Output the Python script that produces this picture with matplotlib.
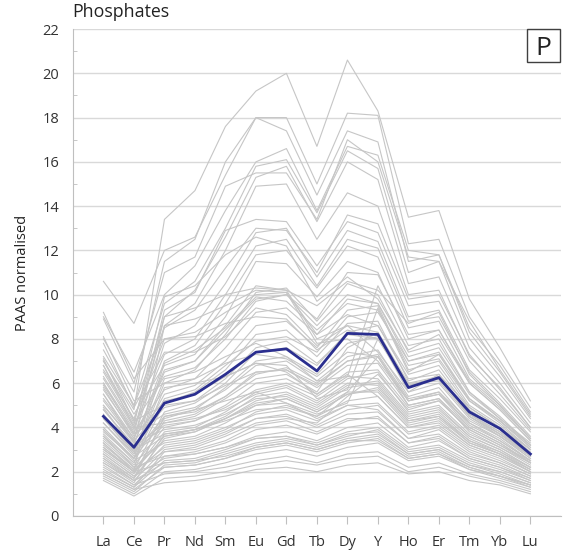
import numpy as np
import matplotlib
matplotlib.use("Agg")
import matplotlib.pyplot as plt
from matplotlib.patches import Rectangle

plt.rcParams['font.family'] = ['Open Sans', 'DejaVu Sans']

elements = ["La", "Ce", "Pr", "Nd", "Sm", "Eu", "Gd", "Tb", "Dy", "Y", "Ho", "Er", "Tm", "Yb", "Lu"]

# individual phosphate samples (PAAS normalised)
samples = [
    [7.0, 4.8, 13.4, 14.7, 17.6, 19.2, 20.0, 16.7, 20.6, 18.3, 13.5, 13.8, 9.8, 7.6, 5.2],
    [10.6, 8.7, 12.0, 12.6, 15.4, 18.0, 18.0, 15.0, 18.2, 18.1, 12.3, 12.5, 9.0, 7.0, 4.9],
    [8.0, 5.6, 11.5, 12.5, 16.0, 18.0, 17.4, 14.5, 17.4, 16.9, 11.5, 11.8, 8.5, 6.8, 4.7],
    [9.0, 6.5, 10.0, 11.3, 13.8, 16.0, 16.6, 13.8, 16.7, 16.3, 12.0, 11.8, 8.3, 6.5, 4.5],
    [7.5, 5.0, 9.6, 10.6, 13.0, 15.8, 16.1, 13.7, 16.5, 15.7, 11.0, 11.5, 8.0, 6.3, 4.4],
    [6.8, 4.3, 9.0, 10.2, 12.6, 15.3, 15.8, 13.3, 16.0, 15.2, 10.5, 10.8, 7.6, 6.0, 4.2],
    [6.0, 3.9, 8.6, 9.6, 12.0, 14.9, 15.0, 12.5, 14.6, 14.0, 10.0, 10.2, 7.2, 5.8, 4.0],
    [8.9, 6.0, 11.0, 11.7, 14.9, 15.5, 15.5, 13.4, 17.0, 16.0, 11.7, 11.5, 8.8, 6.6, 4.6],
    [5.7, 3.7, 9.3, 10.1, 12.9, 13.4, 13.3, 11.3, 13.3, 12.8, 9.5, 9.7, 7.0, 5.5, 3.9],
    [7.2, 5.0, 8.5, 9.3, 11.2, 13.0, 12.9, 11.0, 13.6, 13.2, 9.8, 10.0, 7.3, 5.7, 4.0],
    [5.5, 3.5, 7.8, 8.6, 10.5, 12.8, 13.0, 10.8, 12.9, 12.4, 9.0, 9.3, 6.6, 5.3, 3.8],
    [6.2, 4.0, 7.3, 8.0, 10.0, 12.2, 12.5, 10.4, 12.5, 12.1, 8.8, 9.0, 6.5, 5.1, 3.6],
    [4.8, 3.2, 7.0, 7.7, 9.6, 11.8, 12.0, 10.3, 12.2, 11.7, 8.5, 8.8, 6.2, 5.0, 3.5],
    [7.0, 4.6, 6.8, 7.3, 9.0, 11.5, 11.4, 9.9, 11.5, 11.0, 8.0, 8.4, 6.0, 4.8, 3.4],
    [5.0, 3.3, 6.5, 7.0, 8.6, 10.4, 10.2, 9.5, 10.6, 10.2, 8.7, 9.2, 6.4, 5.0, 3.5],
    [4.2, 2.8, 6.0, 6.6, 8.2, 10.1, 10.3, 8.8, 10.5, 10.0, 7.4, 7.8, 5.6, 4.5, 3.2],
    [6.5, 4.2, 6.3, 6.7, 8.0, 9.7, 10.0, 8.6, 10.0, 9.6, 7.0, 7.3, 5.3, 4.3, 3.1],
    [3.8, 2.6, 6.9, 7.5, 8.5, 9.9, 9.7, 8.4, 9.6, 9.3, 6.8, 7.1, 5.2, 4.2, 3.0],
    [5.9, 3.8, 5.7, 6.2, 7.6, 9.2, 9.4, 8.2, 9.8, 9.6, 7.2, 7.6, 5.5, 4.4, 3.2],
    [4.5, 3.0, 5.5, 5.9, 7.0, 8.6, 8.8, 7.6, 9.3, 9.5, 6.6, 7.0, 5.0, 4.1, 3.0],
    [3.6, 2.4, 5.1, 5.6, 6.6, 8.2, 8.4, 7.2, 8.7, 8.8, 6.1, 6.6, 4.8, 3.9, 2.8],
    [5.2, 3.4, 4.9, 5.2, 6.2, 7.6, 7.9, 6.9, 8.2, 8.0, 6.0, 6.3, 4.6, 3.8, 2.7],
    [3.2, 2.1, 4.7, 5.1, 6.0, 7.4, 7.6, 6.8, 8.3, 8.6, 6.2, 6.4, 4.5, 3.7, 2.7],
    [4.0, 2.6, 4.4, 4.8, 5.8, 7.0, 7.2, 6.4, 7.8, 8.1, 5.6, 6.0, 4.4, 3.6, 2.6],
    [6.0, 3.7, 4.6, 4.9, 5.7, 6.8, 7.0, 6.1, 7.2, 7.5, 5.4, 5.8, 4.2, 3.5, 2.5],
    [2.9, 1.9, 4.3, 4.6, 5.4, 6.5, 6.6, 5.9, 7.0, 7.3, 5.3, 5.6, 4.1, 3.4, 2.5],
    [4.8, 3.1, 4.2, 4.5, 5.3, 6.2, 6.4, 5.6, 7.6, 8.3, 5.9, 6.3, 4.5, 3.7, 2.8],
    [3.5, 2.3, 4.0, 4.3, 5.0, 6.0, 6.2, 5.5, 6.5, 6.6, 4.9, 5.2, 3.9, 3.2, 2.4],
    [7.1, 4.3, 5.0, 5.2, 5.9, 6.5, 6.6, 5.8, 6.8, 6.9, 5.0, 5.3, 4.0, 3.3, 2.4],
    [8.1, 5.2, 6.0, 6.2, 6.9, 7.3, 7.1, 6.3, 7.4, 7.2, 5.2, 5.5, 4.2, 3.4, 2.5],
    [3.0, 2.0, 3.8, 4.0, 4.7, 5.6, 5.9, 5.2, 6.2, 6.5, 4.7, 5.0, 3.7, 3.1, 2.3],
    [4.2, 2.7, 3.6, 3.9, 4.5, 5.4, 5.6, 5.0, 5.9, 6.1, 4.5, 4.8, 3.6, 3.0, 2.2],
    [2.6, 1.7, 3.5, 3.8, 4.4, 5.2, 5.5, 4.9, 5.8, 6.0, 4.4, 4.7, 3.5, 2.9, 2.2],
    [3.4, 2.2, 3.4, 3.6, 4.2, 5.0, 5.3, 4.7, 5.5, 5.7, 4.2, 4.5, 3.4, 2.8, 2.1],
    [5.5, 3.3, 3.9, 4.1, 4.6, 5.3, 5.4, 4.8, 5.6, 5.6, 4.1, 4.4, 3.3, 2.8, 2.0],
    [2.8, 1.8, 3.2, 3.4, 3.9, 4.7, 5.0, 4.5, 5.2, 5.4, 4.0, 4.3, 3.2, 2.7, 2.0],
    [3.9, 2.5, 3.3, 3.5, 4.0, 4.6, 4.8, 4.3, 5.0, 5.1, 3.8, 4.1, 3.1, 2.6, 1.9],
    [2.4, 1.6, 3.0, 3.2, 3.7, 4.4, 4.6, 4.1, 4.8, 5.0, 3.7, 4.0, 3.0, 2.5, 1.9],
    [3.1, 2.0, 3.1, 3.3, 3.8, 4.4, 4.5, 4.0, 4.6, 4.7, 3.5, 3.7, 2.8, 2.4, 1.8],
    [4.6, 2.9, 4.1, 4.3, 4.9, 5.7, 6.0, 5.4, 6.3, 6.2, 4.6, 4.9, 3.6, 3.0, 2.2],
    [6.8, 4.0, 4.2, 4.4, 4.8, 5.5, 5.8, 5.1, 6.0, 5.9, 4.3, 4.6, 3.4, 2.9, 2.1],
    [2.2, 1.4, 2.7, 2.9, 3.3, 3.9, 4.1, 3.7, 4.3, 4.5, 3.3, 3.6, 2.7, 2.3, 1.7],
    [2.8, 1.8, 2.6, 2.8, 3.1, 3.6, 3.8, 3.4, 4.0, 4.2, 3.1, 3.4, 2.6, 2.2, 1.6],
    [2.0, 1.3, 2.5, 2.6, 3.0, 3.5, 3.6, 3.3, 3.8, 4.0, 3.0, 3.2, 2.5, 2.1, 1.6],
    [3.6, 2.2, 2.7, 2.8, 3.1, 3.5, 3.6, 3.2, 3.7, 3.8, 2.8, 3.0, 2.3, 2.0, 1.5],
    [1.8, 1.1, 2.3, 2.4, 2.8, 3.2, 3.4, 3.1, 3.5, 3.7, 2.8, 3.0, 2.3, 1.9, 1.4],
    [2.5, 1.6, 2.2, 2.3, 2.6, 3.0, 3.2, 2.9, 3.3, 3.5, 2.6, 2.8, 2.2, 1.8, 1.4],
    [1.7, 1.0, 2.0, 2.1, 2.4, 2.8, 3.0, 2.7, 3.1, 3.3, 2.5, 2.7, 2.1, 1.7, 1.3],
    [2.3, 1.4, 1.9, 2.0, 2.2, 2.5, 2.7, 2.4, 2.8, 2.9, 2.2, 2.4, 1.9, 1.6, 1.2],
    [1.6, 0.9, 1.7, 1.8, 2.0, 2.3, 2.5, 2.3, 2.6, 2.7, 2.0, 2.2, 1.8, 1.5, 1.1],
    [1.9, 1.2, 1.5, 1.6, 1.8, 2.1, 2.2, 2.0, 2.3, 2.4, 1.9, 2.0, 1.6, 1.4, 1.0],
    [3.3, 2.0, 2.4, 2.5, 2.7, 3.1, 3.3, 3.0, 3.4, 3.4, 2.6, 2.8, 2.1, 1.8, 1.4],
    [5.0, 3.4, 9.0, 9.4, 10.0, 10.3, 10.2, 8.0, 8.6, 7.4, 5.6, 6.4, 4.9, 4.0, 3.0],
    [3.0, 2.0, 8.6, 8.9, 9.5, 10.2, 10.1, 7.8, 8.0, 7.0, 5.2, 5.6, 4.3, 3.6, 2.7],
    [6.3, 4.1, 9.9, 10.4, 11.8, 12.6, 12.2, 9.7, 10.8, 9.8, 7.5, 8.2, 6.0, 4.8, 3.4],
    [4.4, 2.9, 6.2, 6.5, 7.2, 7.8, 7.2, 6.1, 6.3, 10.4, 7.7, 8.0, 5.6, 4.4, 3.3],
    [3.7, 2.4, 5.8, 6.0, 6.3, 6.9, 6.8, 5.3, 5.7, 9.4, 6.5, 7.3, 5.2, 4.3, 3.2],
    [2.7, 1.7, 4.5, 4.8, 5.2, 5.6, 5.1, 4.6, 5.1, 8.0, 5.8, 6.2, 4.6, 3.8, 2.8],
    [7.8, 4.9, 7.4, 7.4, 8.1, 9.4, 9.1, 7.7, 8.6, 8.3, 6.0, 6.1, 4.5, 3.6, 2.6],
    [5.8, 3.6, 5.2, 5.5, 6.3, 6.9, 6.5, 5.5, 6.4, 5.4, 4.0, 4.2, 3.2, 2.7, 2.0],
    [2.4, 1.5, 3.7, 3.9, 4.3, 4.8, 4.9, 4.5, 5.6, 7.2, 5.0, 5.3, 3.8, 3.1, 2.4],
    [3.3, 2.1, 2.9, 3.0, 3.4, 4.1, 4.3, 3.8, 4.4, 4.4, 3.3, 3.5, 2.6, 2.2, 1.7],
    [4.9, 3.0, 3.7, 3.9, 4.4, 5.0, 5.1, 4.4, 5.0, 4.8, 3.5, 3.9, 2.9, 2.4, 1.8],
    [2.1, 1.3, 2.9, 3.1, 3.6, 4.2, 4.4, 4.2, 5.4, 6.4, 4.8, 5.2, 3.9, 3.2, 2.5],
    [6.6, 4.4, 8.0, 8.3, 9.2, 10.0, 10.1, 8.2, 9.1, 8.6, 6.4, 6.8, 4.9, 4.0, 2.9],
    [3.9, 2.6, 5.3, 5.7, 6.8, 7.9, 8.1, 7.4, 9.0, 9.2, 7.0, 7.4, 5.3, 4.3, 3.1],
    [5.3, 3.5, 6.6, 7.0, 8.4, 9.8, 10.0, 8.9, 11.0, 10.9, 8.2, 8.4, 6.1, 4.9, 3.5],
    [2.6, 1.6, 2.4, 2.5, 2.9, 3.3, 3.5, 3.2, 3.6, 3.9, 2.9, 3.1, 2.4, 2.0, 1.5],
    [1.9, 1.2, 2.2, 2.3, 2.6, 3.1, 3.3, 3.0, 3.4, 3.6, 2.7, 2.9, 2.2, 1.8, 1.3],
    [4.4, 2.8, 4.5, 4.7, 5.4, 6.4, 6.7, 6.0, 7.0, 7.2, 5.2, 5.5, 4.0, 3.3, 2.4],
    [3.1, 2.0, 3.6, 3.8, 4.4, 5.1, 5.3, 4.7, 5.5, 5.8, 4.3, 4.5, 3.3, 2.8, 2.1],
    [9.2, 6.2, 8.0, 8.1, 8.7, 9.0, 8.9, 7.5, 8.4, 8.0, 5.9, 6.2, 4.6, 3.7, 2.7],
]

# average of the phosphate samples
mean_vals = [4.5, 3.1, 5.1, 5.5, 6.4, 7.4, 7.55, 6.55, 8.25, 8.2, 5.8, 6.25, 4.7, 3.95, 2.8]

x = np.arange(len(elements))

fig = plt.figure(figsize=(5.7, 5.59), dpi=100)
ax = fig.add_axes([0.128, 0.077, 0.856, 0.871])

for s in samples:
    ax.plot(x, s, color="#c6c6c6", lw=0.8, zorder=2)
ax.plot(x, mean_vals, color="#2b2f8f", lw=2.0, zorder=3)

ax.set_xlim(-1, 15)
ax.set_ylim(0, 22)
ax.set_xticks(x)
ax.set_xticklabels(elements)
ax.set_yticks(np.arange(0, 23, 2))
ax.set_yticks(np.arange(1, 22, 2), minor=True)
ax.grid(axis="y", which="major", color="#d9d9d9", lw=1.0, zorder=0)

for side in ["top", "right"]:
    ax.spines[side].set_visible(False)
for side in ["left", "bottom"]:
    ax.spines[side].set_color("#bfbfbf")

ax.tick_params(axis="x", length=6, color="#bfbfbf", pad=8, labelsize=10.5, labelcolor="#333333")
ax.tick_params(axis="y", which="major", length=0, pad=10, labelsize=10.5, labelcolor="#333333")
ax.tick_params(axis="y", which="minor", length=3, direction="in", color="#bfbfbf")

ax.set_ylabel("PAAS normalised", fontsize=10.5, color="#222222", labelpad=9)

fig.text(0.127, 0.962, "Phosphates", fontsize=12.8, color="#222222", ha="left", va="bottom")

# panel letter box in the top right corner
ax.add_patch(Rectangle((0.930, 0.932), 0.068, 0.068, transform=ax.transAxes,
                       fill=False, ec="#404040", lw=1.0, clip_on=False, zorder=5))
ax.text(0.964, 0.966, "P", transform=ax.transAxes, fontsize=19, ha="center",
        va="center_baseline", color="#222222", zorder=6)

fig.savefig("out.png", dpi=100)
